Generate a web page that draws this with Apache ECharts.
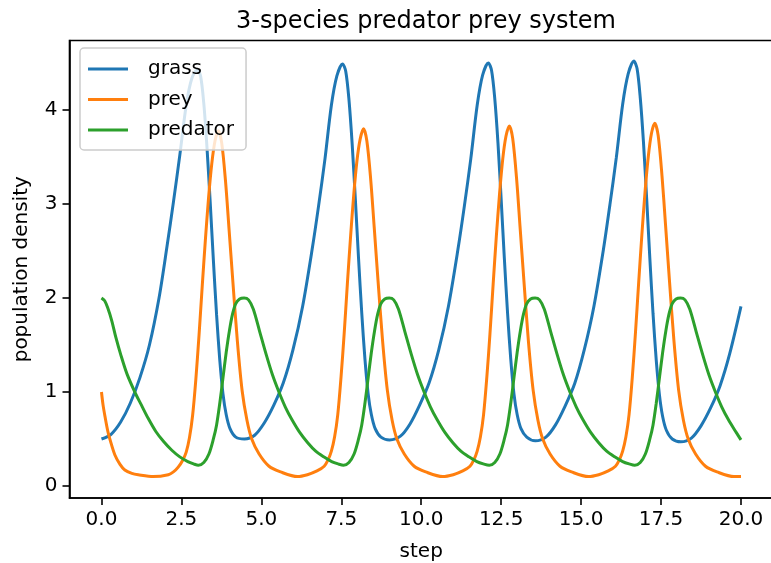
<!DOCTYPE html>
<html>
<head>
<meta charset="utf-8">
<script src="https://cdn.jsdelivr.net/npm/echarts@6/dist/echarts.min.js"></script>
<style>
html,body{margin:0;padding:0;background:#fff;}
#chart{width:771px;height:563px;}
</style>
</head>
<body>
<div id="chart"></div>
<script>
// ---- data ----
const xTicks = [0, 2.5, 5, 7.5, 10, 12.5, 15, 17.5, 20];
const yTicks = [0, 1, 2, 3, 4];
const seriesNames = ['grass', 'prey', 'predator'];

const grassT = [0,0.3,0.6,0.9,1.2,1.5,1.8,2.05,2.25,2.45,2.65,2.82,3.0,3.1,3.2,3.3,3.4,3.5,3.6,3.7,3.8,3.9,4.02,4.2,4.47,
  4.79,5.09,5.39,5.69,5.99,6.29,6.59,6.79,6.99,7.19,7.36,7.54,7.64,7.74,7.84,7.94,8.04,8.14,8.24,8.34,8.44,8.56,8.74,9.01,
  9.35,9.65,9.95,10.25,10.55,10.85,11.15,11.35,11.55,11.75,11.92,12.1,12.2,12.3,12.4,12.5,12.6,12.7,12.8,12.9,13.0,13.12,13.3,13.57,
  13.9,14.2,14.5,14.8,15.1,15.4,15.7,15.9,16.1,16.3,16.47,16.65,16.75,16.85,16.95,17.05,17.15,17.25,17.35,17.45,17.55,17.67,17.85,18.12,
  18.45,18.75,19.05,19.35,19.65,20.0];
const grassV = [0.50,0.55,0.68,0.88,1.15,1.50,2.00,2.55,3.02,3.52,4.05,4.33,4.43,4.36,4.07,3.60,3.02,2.40,1.82,1.34,0.98,0.76,0.61,0.52,0.50,
  0.54,0.67,0.86,1.10,1.45,1.91,2.52,2.98,3.48,4.05,4.36,4.49,4.41,4.11,3.64,3.05,2.42,1.84,1.35,0.98,0.76,0.61,0.52,0.49,
  0.53,0.66,0.86,1.10,1.45,1.91,2.52,2.98,3.48,4.05,4.37,4.50,4.42,4.12,3.65,3.05,2.42,1.84,1.35,0.98,0.76,0.61,0.52,0.48,
  0.52,0.65,0.85,1.09,1.45,1.91,2.52,2.99,3.49,4.06,4.38,4.52,4.44,4.13,3.66,3.06,2.42,1.83,1.34,0.97,0.74,0.59,0.50,0.47,
  0.51,0.64,0.83,1.07,1.41,1.91];

const preyT = [0,0.05,0.11,0.2,0.27,0.42,0.58,0.73,0.95,1.15,1.62,2.09,2.25,2.4,2.55,2.65,2.75,2.85,2.95,3.05,3.15,3.25,3.35,3.45,3.55,3.655,3.76,3.88,3.99,4.11,4.25,4.4,4.55,4.7,4.93,5.24,5.6,6.13,
  6.44,6.74,6.965,7.09,7.19,7.29,7.39,7.49,7.59,7.69,7.79,7.89,7.99,8.09,8.195,8.3,8.42,8.53,8.65,8.79,8.94,9.09,9.24,9.47,9.78,10.14,10.67,
  11.0,11.3,11.525,11.65,11.75,11.85,11.95,12.05,12.15,12.25,12.35,12.45,12.55,12.65,12.755,12.86,12.98,13.09,13.21,13.35,13.5,13.65,13.8,14.03,14.34,14.7,15.23,
  15.55,15.85,16.075,16.2,16.3,16.4,16.5,16.6,16.7,16.8,16.9,17.0,17.1,17.2,17.305,17.41,17.53,17.64,17.76,17.9,18.05,18.2,18.35,18.58,18.89,19.25,19.78,20.0];
const preyV = [1.00,0.86,0.74,0.58,0.49,0.33,0.23,0.17,0.135,0.12,0.10,0.12,0.15,0.20,0.28,0.36,0.51,0.75,1.13,1.60,2.12,2.62,3.07,3.43,3.67,3.78,3.65,3.24,2.73,2.17,1.54,1.01,0.70,0.50,0.34,0.21,0.15,0.10,
  0.12,0.16,0.21,0.28,0.37,0.52,0.76,1.15,1.62,2.15,2.65,3.10,3.46,3.69,3.80,3.67,3.26,2.75,2.18,1.55,1.02,0.70,0.50,0.34,0.21,0.15,0.10,
  0.12,0.16,0.21,0.28,0.37,0.52,0.76,1.15,1.62,2.15,2.66,3.11,3.48,3.72,3.83,3.70,3.28,2.76,2.19,1.55,1.02,0.70,0.50,0.34,0.21,0.15,0.10,
  0.12,0.16,0.21,0.28,0.37,0.52,0.76,1.15,1.63,2.16,2.67,3.13,3.50,3.75,3.86,3.73,3.30,2.78,2.20,1.56,1.02,0.70,0.50,0.34,0.21,0.15,0.10,0.10];

const predT = [0,0.1,0.2,0.32,0.45,0.6,0.8,1.07,1.25,1.46,1.7,1.95,2.2,2.45,2.7,2.88,3.03,
  3.2,3.36,3.5,3.6,3.7,3.8,3.9,4.0,4.1,4.2,4.32,4.46,
  4.6,4.75,4.95,5.15,5.35,5.55,5.75,5.95,6.2,6.45,6.7,6.95,7.2,7.4,7.57,
  7.74,7.9,8.04,8.14,8.24,8.34,8.44,8.54,8.64,8.74,8.86,9.0,
  9.14,9.29,9.49,9.69,9.89,10.09,10.29,10.49,10.74,10.99,11.24,11.49,11.74,11.94,12.13,
  12.3,12.46,12.6,12.7,12.8,12.9,13.0,13.1,13.2,13.3,13.42,13.56,
  13.7,13.85,14.05,14.25,14.45,14.65,14.85,15.05,15.3,15.55,15.8,16.05,16.3,16.5,16.68,
  16.85,17.01,17.15,17.25,17.35,17.45,17.55,17.65,17.75,17.85,17.97,18.11,
  18.25,18.4,18.6,18.8,19.0,19.2,19.4,19.6,19.85,20.0];
const predV = [2.00,1.97,1.89,1.76,1.58,1.40,1.19,0.98,0.86,0.72,0.58,0.47,0.38,0.31,0.26,0.235,0.22,
  0.25,0.34,0.50,0.65,0.88,1.15,1.42,1.65,1.83,1.94,1.99,2.00,
  1.98,1.88,1.64,1.40,1.18,1.00,0.84,0.71,0.57,0.46,0.37,0.31,0.26,0.235,0.22,
  0.25,0.34,0.50,0.65,0.88,1.15,1.42,1.65,1.83,1.94,1.99,2.00,
  1.98,1.88,1.64,1.40,1.18,1.00,0.84,0.71,0.57,0.46,0.37,0.31,0.26,0.235,0.22,
  0.25,0.34,0.50,0.65,0.88,1.15,1.42,1.65,1.83,1.94,1.99,2.00,
  1.98,1.88,1.64,1.40,1.18,1.00,0.84,0.71,0.57,0.46,0.37,0.31,0.26,0.235,0.22,
  0.25,0.34,0.50,0.65,0.88,1.15,1.42,1.65,1.83,1.94,1.99,2.00,
  1.98,1.88,1.64,1.40,1.18,1.00,0.84,0.71,0.57,0.49];

// ---- chart ----
const FONT = 'DejaVu Sans';
const colors = ['#1f77b4', '#ff7f0e', '#2ca02c'];
const pairs = (ts, vs) => ts.map((t, i) => [t, vs[i]]);

const chart = echarts.init(document.getElementById('chart'), null, {renderer: 'canvas'});
const mkSeries = (name, ts, vs, c) => ({
  name: name, type: 'line', data: pairs(ts, vs),
  showSymbol: false, symbol: 'none', smooth: 0.3,
  lineStyle: {color: c, width: 3}, itemStyle: {color: c},
  animation: false, z: 2
});

chart.setOption({
  animation: false,
  backgroundColor: '#ffffff',
  title: {
    text: '3-species predator prey system',
    left: 421, top: 5, textAlign: 'center',
    textStyle: {fontFamily: FONT, fontSize: 24, fontWeight: 'normal', color: '#000'}
  },
  legend: {
    orient: 'vertical', left: 80, top: 48,
    padding: [11, 12, 10, 8],
    icon: 'rect', itemWidth: 40, itemHeight: 3, itemGap: 10.5,
    backgroundColor: 'rgba(255,255,255,0.8)',
    borderColor: '#cccccc', borderWidth: 1.5, borderRadius: 4,
    textStyle: {fontFamily: FONT, fontSize: 20, color: '#000', padding: [0, 0, 0, 15], lineHeight: 20},
    data: seriesNames,
    z: 10
  },
  grid: {left: 69.5, right: -1.95, top: 40.5, bottom: 65, show: true, borderColor: '#000', borderWidth: 1.6,
    containLabel: false, outerBoundsMode: 'none'},
  xAxis: {
    type: 'value', min: -1, max: 21,
    name: 'step', nameLocation: 'middle', nameGap: 44,
    nameTextStyle: {fontFamily: FONT, fontSize: 20, color: '#000'},
    axisLine: {show: true, onZero: false, lineStyle: {color: '#000', width: 1.6}},
    axisTick: {show: true, length: 7, lineStyle: {color: '#000', width: 1.6}, customValues: xTicks},
    axisLabel: {fontFamily: FONT, fontSize: 20, color: '#000', margin: 12, customValues: xTicks,
      formatter: v => Number(v).toFixed(1)},
    splitLine: {show: false}
  },
  yAxis: {
    type: 'value', min: -0.1277, max: 4.739,
    name: 'population density', nameLocation: 'middle', nameGap: 38,
    nameTextStyle: {fontFamily: FONT, fontSize: 20, color: '#000'},
    axisLine: {show: true, onZero: false, lineStyle: {color: '#000', width: 1.6}},
    axisTick: {show: true, length: 7, lineStyle: {color: '#000', width: 1.6}, customValues: yTicks},
    axisLabel: {fontFamily: FONT, fontSize: 20, color: '#000', margin: 12, customValues: yTicks,
      formatter: v => String(Math.round(v))},
    splitLine: {show: false}
  },
  series: [
    mkSeries(seriesNames[0], grassT, grassV, colors[0]),
    mkSeries(seriesNames[1], preyT, preyV, colors[1]),
    mkSeries(seriesNames[2], predT, predV, colors[2])
  ]
});
</script>
</body>
</html>
